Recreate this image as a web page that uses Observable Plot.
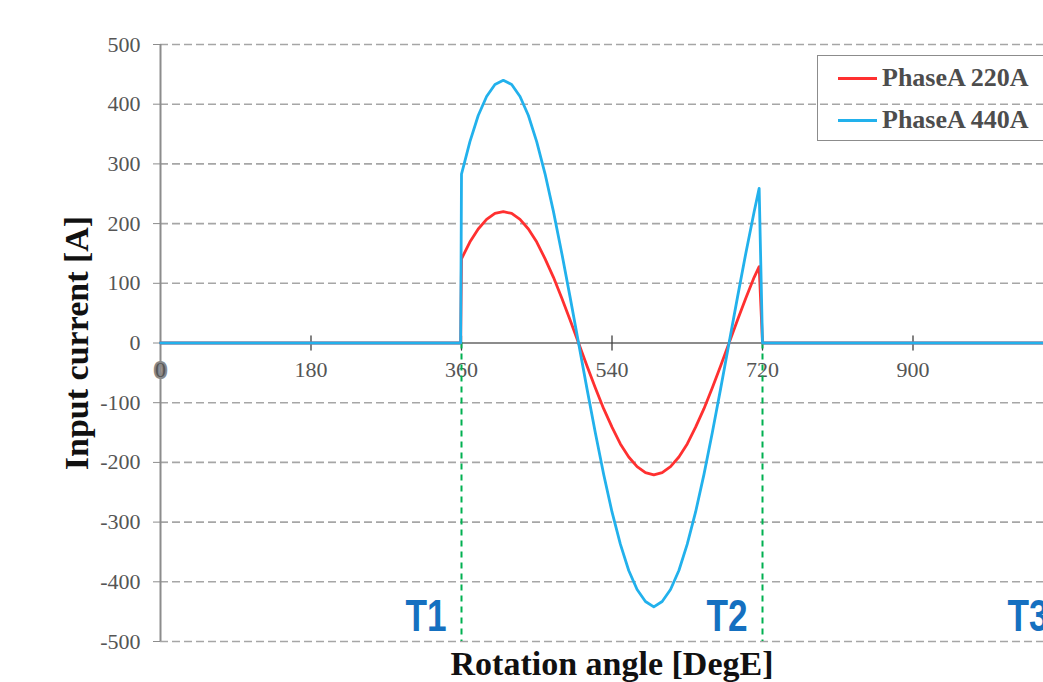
<!DOCTYPE html>
<html><head><meta charset="utf-8">
<script src="https://cdn.jsdelivr.net/npm/d3@7"></script>
<script src="https://cdn.jsdelivr.net/npm/@observablehq/plot@0.6"></script>
<style>
html,body{margin:0;padding:0;background:#fff;overflow:hidden}
#wrap{position:relative;width:1043px;height:682px;overflow:hidden}
#wrap svg{position:absolute;left:0;top:0;max-width:none !important;width:1100px;height:682px}
#legend{position:absolute;left:817px;top:55px;width:260px;height:86px;border:1.5px solid #8c8c8c;box-sizing:border-box;font-family:"Liberation Serif",serif;font-weight:bold;font-size:26px;color:#4d4d4d}
.item{position:absolute;left:20px;display:flex;align-items:center;height:30px;white-space:nowrap}
.sw{width:39px;height:3px;margin-right:5px}
</style></head><body><div id="wrap"></div>
<script>
const angles = [0, 359, 360, 370, 380, 390, 400, 410, 420, 430, 440, 450, 460, 470, 480, 490, 500, 510, 520, 530, 540, 550, 560, 570, 580, 590, 600, 610, 620, 630, 640, 650, 660, 670, 680, 690, 700, 710, 716, 720, 1080];
const phaseA220 = [0, 0, 141, 169, 191, 207, 217, 220, 217, 207, 191, 169, 141, 110, 75, 38, 0, -38, -75, -110, -141, -169, -191, -207, -217, -221, -217, -207, -191, -169, -141, -110, -75, -38, 0, 38, 75, 110, 128, 0, 0];
const phaseA440 = [0, 0, 283, 337, 381, 413, 433, 440, 433, 413, 381, 337, 283, 220, 150, 76, 0, -76, -150, -220, -283, -337, -381, -413, -433, -442, -433, -413, -381, -337, -283, -220, -150, -76, 0, 76, 150, 220, 259, 0, 0];
const seriesNames = ["PhaseA 220A", "PhaseA 440A"];
const seriesColors = ["#ff3030", "#22b1ec"];
const yTicks = [-500, -400, -300, -200, -100, 0, 100, 200, 300, 400, 500];
const xTicks = [0, 180, 360, 540, 720, 900, 1080];
const markerAngles = [360, 720, 1080];
const markerLabels = ["T1", "T2", "T3"];
const xTitle = "Rotation angle [DegE]";
const yTitle = "Input current [A]";

const rows = [];
seriesNames.forEach((name, s) => {
  const vals = s === 0 ? phaseA220 : phaseA440;
  angles.forEach((a, i) => rows.push({angle: a, current: vals[i], series: name}));
});

const tickShape = {draw(context, l) { context.moveTo(0, 0); context.lineTo(0, -l); }};

const chart = Plot.plot({
  width: 1100,
  height: 682,
  marginLeft: 160,
  marginRight: 37,
  marginTop: 44,
  marginBottom: 41,
  style: {fontFamily: "'Liberation Serif', serif", background: "white", maxWidth: "none"},
  x: {domain: [0, 1080], axis: null},
  y: {domain: [-500, 500], axis: null},
  color: {domain: seriesNames, range: seriesColors},
  marks: [
    Plot.gridY(yTicks, {stroke: "#a6a6a6", strokeOpacity: 1, strokeWidth: 1.6, strokeDasharray: "8,4"}),
    Plot.ruleX([0], {stroke: "#8c8c8c", strokeWidth: 2}),
    Plot.ruleY([0], {stroke: "#8c8c8c", strokeWidth: 2}),
    Plot.axisY({ticks: yTicks, tickSize: 7, tickPadding: 13, fontSize: 22, color: "#555", stroke: "#8c8c8c", tickFormat: d => String(d), label: null}),
    Plot.vector(xTicks.filter(d => d > 0), {x: d => d, y: 0, length: 14, anchor: "middle", rotate: 0, shape: tickShape, stroke: "#404040", strokeWidth: 1.3}),
    Plot.text(xTicks, {x: d => d, y: 0, dy: 27, text: d => String(d), fontSize: 22, fill: "#555", stroke: d => d === 0 ? "#8a8a8a" : "none", strokeWidth: 4}),
    Plot.ruleX(markerAngles, {y1: 0, y2: -500, stroke: "#00b050", strokeWidth: 2, strokeDasharray: "6,5"}),
    Plot.line(rows, {x: "angle", y: "current", z: "series", stroke: "series", strokeWidth: 2.8, curve: "linear"}),
    Plot.text(markerAngles, {x: d => d, frameAnchor: "bottom", dy: -25, dx: -15, textAnchor: "end", lineAnchor: "middle", text: (d, i) => markerLabels[i], fontSize: 44, fontWeight: "bold", fill: "#1570c0", fontFamily: "'Liberation Sans', sans-serif"}),
    Plot.text([yTitle], {frameAnchor: "left", dx: -83, rotate: -90, textAnchor: "middle", lineAnchor: "middle", text: d => d, fontSize: 34, fontWeight: "bold", fill: "#111"}),
    Plot.text([xTitle], {frameAnchor: "bottom", dy: 23, textAnchor: "middle", lineAnchor: "middle", text: d => d, fontSize: 34, fontWeight: "bold", fill: "#111"})
  ]
});

// narrow the T labels horizontally (condensed look of the original)
d3.select(chart).selectAll("text").filter(function() { return markerLabels.includes(this.textContent); })
  .attr("transform", function() { return (this.getAttribute("transform") || "") + " scale(0.8,1)"; });

const wrap = document.getElementById("wrap");
wrap.appendChild(chart);

const legend = document.createElement("div");
legend.id = "legend";
seriesNames.forEach((name, i) => {
  const item = document.createElement("div");
  item.className = "item";
  item.style.top = (i === 0 ? 7 : 49) + "px";
  const sw = document.createElement("span");
  sw.className = "sw";
  sw.style.background = seriesColors[i];
  const label = document.createElement("span");
  label.textContent = name;
  item.appendChild(sw);
  item.appendChild(label);
  legend.appendChild(item);
});
wrap.appendChild(legend);
</script></body></html>
